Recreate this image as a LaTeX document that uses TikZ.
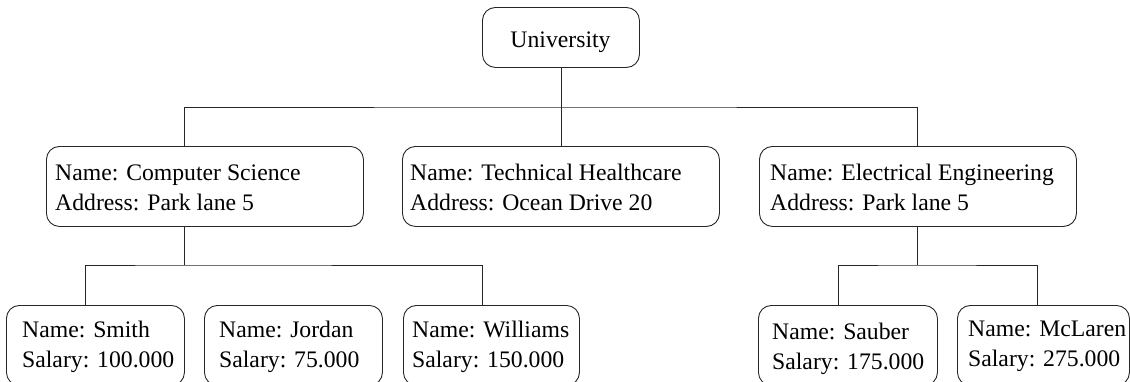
\documentclass[tikz,border=0pt]{standalone}
\usepackage{fontspec}
\setmainfont{Liberation Serif}
\usetikzlibrary{calc}
\begin{document}
\begin{tikzpicture}[x=1pt,y=-1pt,
  box/.style={draw=black!85, line width=0.9pt, rounded corners=13pt, inner sep=0pt,
    anchor=north west, minimum height=80pt},
  txt/.style={anchor=base west, inner sep=0pt, align=left,
    font=\fontsize{23.7pt}{30pt}\selectfont},
  link/.style={draw=black!85, line width=0.9pt}]
\useasboundingbox (0,0) rectangle (1130,381);

% root
\node[box, minimum width=157pt, minimum height=60pt] (uni) at (482,7) {};
\node[txt, anchor=base] (uni-t) at (560.5,47) {University};

% faculties (text nodes are placed by the baseline of their last line)
\node[box, minimum width=317pt] (cs) at (46,146) {};
\node[txt] (cs-t) at (55,210) {Name: Computer Science\\Address: Park lane 5};
\node[box, minimum width=317pt] (th) at (402,146) {};
\node[txt] (th-t) at (410,210) {Name: Technical Healthcare\\Address: Ocean Drive 20};
\node[box, minimum width=317pt] (ee) at (759,146) {};
\node[txt] (ee-t) at (770,210) {Name: Electrical Engineering\\Address: Park lane 5};

% staff
\node[box, minimum width=178pt] (smith) at (6,305) {};
\node[txt] (smith-t) at (22,367) {Name: Smith\\Salary: 100.000};
\node[box, minimum width=178pt] (jordan) at (204,305) {};
\node[txt] (jordan-t) at (219,367) {Name: Jordan\\Salary: 75.000};
\node[box, minimum width=176pt] (williams) at (403,305) {};
\node[txt] (williams-t) at (412,367) {Name: Williams\\Salary: 150.000};
\node[box, minimum width=179pt] (sauber) at (758,305) {};
\node[txt] (sauber-t) at (772,369) {Name: Sauber\\Salary: 175.000};
\node[box, minimum width=172pt] (mclaren) at (957,305) {};
\node[txt] (mclaren-t) at (968,366) {Name: McLaren\\Salary: 275.000};

% junction points of the elbow connectors
\coordinate (j1) at (560,107);
\coordinate (j2) at (184,265);
\coordinate (j3) at (917,265);

% root to faculties
\draw[link] (uni.south) -- (uni.south |- j1);
\draw[link] ($(cs.north west)+(138,0)$) |- (j1) -| ($(ee.north west)+(158,0)$);
\draw[link] (th.north) -- (th.north |- j1);

% Computer Science to its staff
\draw[link] ($(cs.south west)+(138,0)$) -- (j2);
\draw[link] ($(smith.north west)+(79,0)$) |- (j2) -| ($(williams.north west)+(79,0)$);
\draw[link] ($(jordan.north west)+(99,0)$) -- ($(jordan.north west)+(99,0)$ |- j2);

% Electrical Engineering to its staff
\draw[link] ($(ee.south west)+(158,0)$) -- (j3);
\draw[link] ($(sauber.north west)+(80,0)$) |- (j3) -| ($(mclaren.north west)+(80,0)$);
\end{tikzpicture}
\end{document}
